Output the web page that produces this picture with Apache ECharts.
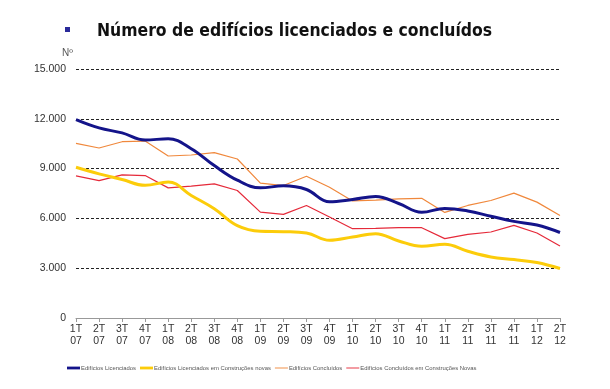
<!DOCTYPE html>
<html><head><meta charset="utf-8">
<script src="https://cdn.jsdelivr.net/npm/echarts@6/dist/echarts.min.js"></script>
<style>html,body{margin:0;padding:0;background:#fff}#c{width:610px;height:389px}</style>
</head><body><div id="c"></div>
<script>
const categories = ['1T\n07','2T\n07','3T\n07','4T\n07','1T\n08','2T\n08','3T\n08','4T\n08','1T\n09','2T\n09','3T\n09','4T\n09','1T\n10','2T\n10','3T\n10','4T\n10','1T\n11','2T\n11','3T\n11','4T\n11','1T\n12','2T\n12'];
const licenciados = [11950,11450,11150,10720,10800,10200,9180,8300,7840,7960,7740,7000,7140,7320,6900,6370,6600,6450,6130,5820,5600,5150];
const licenciadosNovas = [9080,8680,8340,7990,8200,7380,6580,5560,5220,5200,5120,4680,4880,5080,4640,4320,4440,4020,3680,3520,3340,2980];
const concluidos = [10520,10240,10620,10660,9760,9820,9960,9580,8120,7980,8540,7880,7050,7100,7180,7210,6360,6780,7080,7520,6980,6180];
const concluidosNovas = [8560,8280,8620,8580,7840,7940,8080,7680,6380,6240,6780,6080,5380,5400,5440,5440,4780,5040,5180,5580,5120,4340];
const names = ['Edifícios Licenciados','Edifícios Licenciados em Construções novas','Edifícios Concluídos','Edifícios Concluídos em Construções Novas'];
const yTicks = {min:0, max:15000, interval:3000};

const thick = 'path://M0,0H14V3H0Z', thin = 'path://M0,0H14V1H0Z';
const chart = echarts.init(document.getElementById('c'));
chart.setOption({
  animation:false,
  title:{text:'Número de edifícios licenciados e concluídos', left:92, top:18,
    textStyle:{fontFamily:'DejaVu Sans Condensed', fontWeight:'bold', fontSize:17.4, color:'#111'}},
  graphic:[
    {type:'rect', shape:{x:65,y:27,width:5,height:5}, style:{fill:'#2a2a9a'}},
    {type:'text', style:{x:62,y:48,text:'Nº',font:'10px Liberation Sans',fill:'#555'}}
  ],
  grid:{left:76, right:50, top:69, bottom:71},
  legend:{data:[
      {name:names[0], icon:thick}, {name:names[1], icon:thick},
      {name:names[2], icon:thin}, {name:names[3], icon:thin}],
    left:62, top:360, itemWidth:13, itemHeight:6, itemGap:4, symbolKeepAspect:true,
    textStyle:{fontFamily:'Liberation Sans', fontSize:5.9, color:'#555', padding:[0,0,0,-4]}},
  xAxis:{type:'category', data:categories, boundaryGap:false,
    axisLine:{lineStyle:{color:'#999'}}, axisTick:{lineStyle:{color:'#999'}, length:4},
    axisLabel:{fontFamily:'Liberation Sans', fontSize:10.5, color:'#333', lineHeight:12, margin:5, interval:0}},
  yAxis:{type:'value', min:yTicks.min, max:yTicks.max, interval:yTicks.interval,
    axisLine:{show:false}, axisTick:{show:false},
    splitLine:{lineStyle:{color:'#222', type:[3,2], width:1}},
    axisLabel:{fontFamily:'Liberation Sans', fontSize:10.5, color:'#333', margin:10,
      formatter:v=>v===0?'0':v.toLocaleString('de-DE')}},
  series:[
    {name:names[2], type:'line', data:concluidos, showSymbol:false, symbol:'none', z:2, lineStyle:{color:'#f0883c', width:1.2}, itemStyle:{color:'#f0883c'}},
    {name:names[3], type:'line', data:concluidosNovas, showSymbol:false, symbol:'none', z:3, lineStyle:{color:'#e52a3a', width:1.2}, itemStyle:{color:'#e52a3a'}},
    {name:names[1], type:'line', data:licenciadosNovas, smooth:0.4, showSymbol:false, symbol:'none', z:4, lineStyle:{color:'#fccc0a', width:3}, itemStyle:{color:'#fccc0a'}},
    {name:names[0], type:'line', data:licenciados, smooth:0.4, showSymbol:false, symbol:'none', z:5, lineStyle:{color:'#14148a', width:3}, itemStyle:{color:'#14148a'}}
  ]
});
</script></body></html>
